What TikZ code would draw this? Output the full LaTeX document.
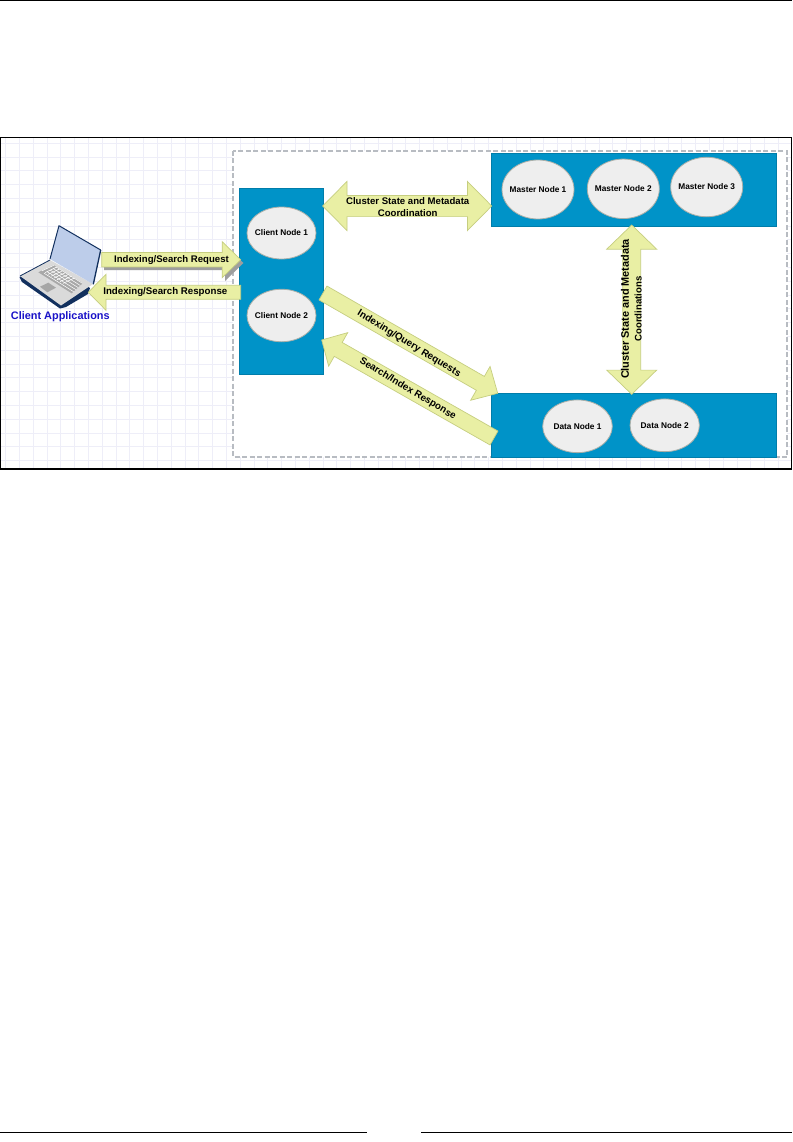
\documentclass[tikz,border=0pt]{standalone}
\usepackage{fontspec}
\setmainfont{Liberation Sans}
\usetikzlibrary{calc,shapes.geometric}
\definecolor{boxblue}{HTML}{0093C8}
\definecolor{arrowfill}{HTML}{E9EFA4}
\definecolor{arrowline}{HTML}{C6CE80}
\definecolor{nodegrey}{HTML}{EEEEEE}
\definecolor{nodeline}{HTML}{A9AFA9}
\definecolor{gridc}{HTML}{EEEEF8}
\definecolor{dashc}{HTML}{B8BCC2}
\definecolor{appblue}{HTML}{1A12C8}
\definecolor{lapnavy}{HTML}{12305E}
\definecolor{lapscreen}{HTML}{BDCDEA}
\definecolor{lapbase}{HTML}{DADADA}
\definecolor{lapkeys}{HTML}{A8A8A8}
\newcommand{\OneHead}[6][fat]{% from, to, half shaft, half head, head length
 \draw[#1] ($(#2)!#4pt!90:(#3)$) -- ($(#3)!#6pt!(#2)!#4pt!-90:(#2)$) -- ($(#3)!#6pt!(#2)!#5pt!-90:(#2)$) -- (#3)
 -- ($(#3)!#6pt!(#2)!#5pt!90:(#2)$) -- ($(#3)!#6pt!(#2)!#4pt!90:(#2)$) -- ($(#2)!#4pt!-90:(#3)$) -- cycle;}
\newcommand{\TwoHead}[5]{%
 \draw[fat] (#1) -- ($(#1)!#5pt!(#2)!#4pt!90:(#2)$) -- ($(#1)!#5pt!(#2)!#3pt!90:(#2)$)
 -- ($(#2)!#5pt!(#1)!#3pt!-90:(#1)$) -- ($(#2)!#5pt!(#1)!#4pt!-90:(#1)$) -- (#2)
 -- ($(#2)!#5pt!(#1)!#4pt!90:(#1)$) -- ($(#2)!#5pt!(#1)!#3pt!90:(#1)$)
 -- ($(#1)!#5pt!(#2)!#3pt!-90:(#2)$) -- ($(#1)!#5pt!(#2)!#4pt!-90:(#2)$) -- cycle;}
\newcommand{\SrvText}[1]{\makebox[0pt]{#1}}
\tikzset{
 x=1pt,y=-1pt,
 cluster/.style={fill=boxblue,draw=boxblue!85!black,line width=.3pt},
 server/.style={ellipse,fill=nodegrey,draw=nodeline,line width=.8pt,inner sep=0pt,font=\bfseries\fontsize{8.3}{10}\selectfont},
 fat/.style={fill=arrowfill,draw=arrowline,line width=.7pt,line join=miter},
 shade arrow/.style={fill=black!38,draw=none},
 lab/.style={font=\bfseries\fontsize{9.6}{11.4}\selectfont,inner sep=0pt,align=center},
 rulerline/.style={draw=black,line width=1pt},
}
\begin{document}
\begin{tikzpicture}
\useasboundingbox (0,0) rectangle (792,1142);
\fill[white] (0,0) rectangle (792,1142);
% page rules
\coordinate (tl) at (0,0.5); \coordinate (tr) at (792,0.5);
\coordinate (bl1) at (0,1132); \coordinate (bl2) at (367,1132);
\coordinate (br1) at (421,1132); \coordinate (br2) at (792,1132);
\draw[rulerline] (tl)--(tr); \draw[rulerline] (bl1)--(bl2); \draw[rulerline] (br1)--(br2);
% grid
\begin{scope}
\clip (1,138) rectangle (791,469);
\foreach \i in {0,...,57} {\draw[gridc,line width=.5pt] ({5.5+\i*13.8},138)--({5.5+\i*13.8},469);}
\foreach \i in {0,...,24} {\draw[gridc,line width=.5pt] (1,{143+\i*13.8})--(791,{143+\i*13.8});}
\end{scope}
% dashed region
\fill[white] (233,151) rectangle (787,457);
\draw[dashc,line width=1.2pt,dash pattern=on 5pt off 2.5pt] (233,151) rectangle (787,457);
% frame
\draw[black,line width=1.1pt] (0.6,137.6) rectangle (791.6,469);
% clusters
\draw[cluster] (239.3,187.7) rectangle (323.3,374);
\draw[cluster] (491,152.7) rectangle (776,226);
\draw[cluster] (491,392.7) rectangle (776,457);
% servers
\node[server,minimum width=69pt,minimum height=52pt] (c1) at (281.5,233) {\SrvText{Client Node 1}};
\node[server,minimum width=69pt,minimum height=52.5pt] (c2) at (281.5,315.5) {\SrvText{Client Node 2}};
\node[server,minimum width=72pt,minimum height=59pt] (m1) at (538,189.5) {\SrvText{Master Node 1}};
\node[server,minimum width=72pt,minimum height=59.5pt] (m2) at (623.3,188.8) {\SrvText{Master Node 2}};
\node[server,minimum width=72pt,minimum height=59.5pt] (m3) at (706.7,187) {\SrvText{Master Node 3}};
\node[server,minimum width=69.6pt,minimum height=52.7pt] (d1) at (577.5,426.3) {\SrvText{Data Node 1}};
\node[server,minimum width=69.3pt,minimum height=52.7pt] (d2) at (664.7,425.3) {\SrvText{Data Node 2}};
% laptop
\begin{scope}[line join=round]
 % base
 \fill[lapnavy] (19.5,277)--(22,282)--(60,308.5)--(66,307)--(88,294)--(90,288)--(50,262)--cycle;
 \fill[lapbase] (20,276)--(50,260)--(93,284)--(61,305.5)--cycle;
 \fill[lapkeys] (38.3,272.3)--(53.3,265)--(82.7,283.3)--(71.7,293.3)--cycle;
 \begin{scope}
  \clip (38.3,272.3)--(53.3,265)--(82.7,283.3)--(71.7,293.3)--cycle;
  \foreach \k in {0,...,8} {\draw[white,line width=.6pt] ({36+\k*3},{270+\k*1.8})++(3,-1)--++(34,-16);}
  \foreach \k in {0,...,14} {\draw[white,line width=.5pt] ({35+\k*3},{278-\k*1.6})--++(32,20);}
 \end{scope}
 \fill[black!35] (40,286.7)--(48.3,282.7)--(56,287.7)--(47.3,292.3)--cycle;
 % lid
 \fill[lapscreen] (59,225.7)--(100.7,250)--(93.3,284.3)--(50,259)--cycle;
 \draw[lapnavy,line width=1pt] (50,259)--(59,225.7)--(100.7,250);
 \draw[lapnavy,line width=1.3pt] (100.7,250)--(93.3,284.3);
 \draw[lapnavy,line width=.8pt] (50,260)--(20,276);
\end{scope}
\node[inner sep=0pt,text=appblue,font=\bfseries\fontsize{10.9}{12}\selectfont] (apps) at (60.3,316.7) {Client Applications};
% fat arrow end points
\coordinate (reqA) at (101.7,259.7); \coordinate (reqB) at (240.7,259.7);
\coordinate (reqAs) at (104,263); \coordinate (reqBs) at (243.5,263);
\coordinate (resA) at (240.7,292.3); \coordinate (resB) at (88.3,292.3);
\coordinate (csA) at (322.7,206); \coordinate (csB) at (491.7,206);
\coordinate (cvA) at (631.7,225); \coordinate (cvB) at (631.7,394.3);
\coordinate (iqA) at (323,293); \coordinate (iqB) at (497.7,393.3);
\coordinate (siA) at (494,438); \coordinate (siB) at (321.7,340);
\OneHead[shade arrow]{reqAs}{reqBs}{7.2}{18}{18.5}
\OneHead{reqA}{reqB}{7.2}{18}{18.5}
\OneHead{resA}{resB}{7}{18}{17.7}
\TwoHead{csA}{csB}{10.6}{24.6}{24.3}
\TwoHead{cvA}{cvB}{9}{25}{24.2}
\OneHead{iqA}{iqB}{8}{19.5}{20}
\OneHead{siA}{siB}{8}{19.3}{19}
% labels
\node[lab] (lreq) at (171.5,259.7) {Indexing/Search Request};
\node[lab,font=\bfseries\fontsize{9.7}{11.4}\selectfont] (lres) at (165.3,292.3) {Indexing/Search Response};
\node[lab] (lcs) at (407.7,207) {Cluster State and Metadata\\Coordination};
\node[lab,font=\bfseries\fontsize{10.9}{12.7}\selectfont,rotate=90] (lcv) at (631.3,309) {Cluster State and Metadata\\{\fontsize{9.6}{12.7}\selectfont Coordinations}};
\node[lab,font=\bfseries\fontsize{9.9}{11}\selectfont,rotate=-31.5] (liq) at (409,344) {Indexing/Query Requests};
\node[lab,font=\bfseries\fontsize{9.8}{11}\selectfont,rotate=-31] (lsi) at (407.7,389) {Search/Index Response};
\end{tikzpicture}
\end{document}
